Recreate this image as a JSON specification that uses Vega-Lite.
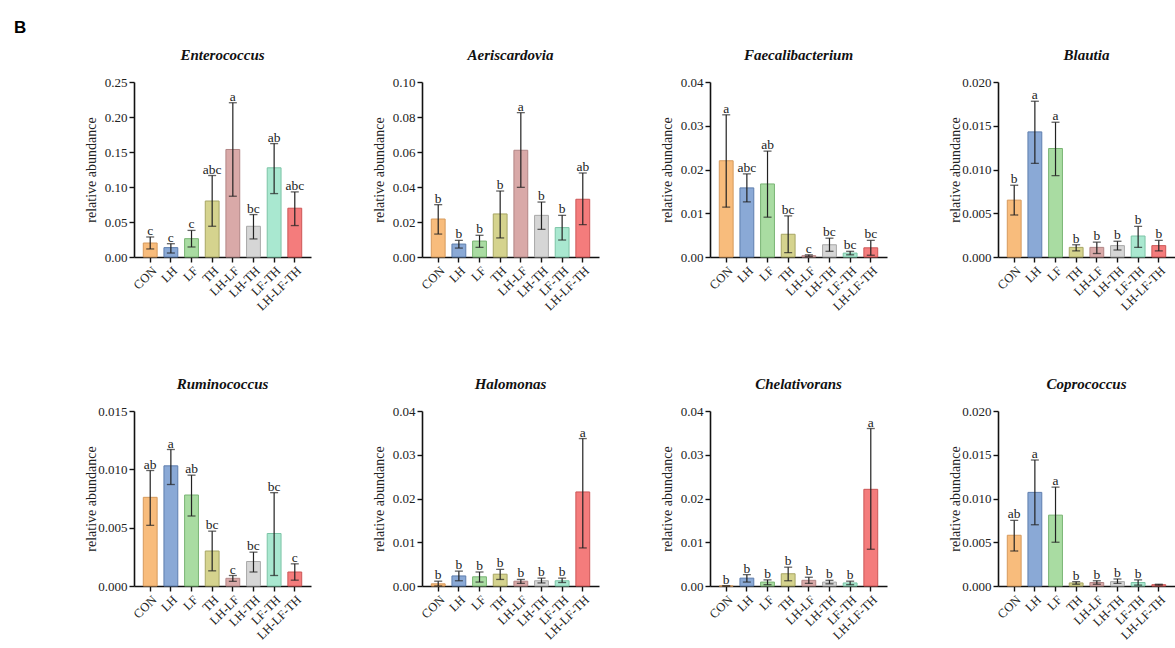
{
  "$schema": "https://vega.github.io/schema/vega-lite/v6.json",
  "padding": {"left": 14, "top": 19, "right": 0, "bottom": 0},
  "background": "white",
  "title": {"text": "B", "font": "Liberation Sans", "fontSize": 17, "fontStyle": "normal", "fontWeight": "bold", "color": "#000", "anchor": "start", "dx": -70, "offset": 11},
  "datasets": {
    "d": [
      {"genus": "Enterococcus", "group": "CON", "mean": 0.020, "lo": 0.0115, "hi": 0.0286, "letter": "c"},
      {"genus": "Enterococcus", "group": "LH", "mean": 0.0134, "lo": 0.0057, "hi": 0.019, "letter": "c"},
      {"genus": "Enterococcus", "group": "LF", "mean": 0.0262, "lo": 0.0143, "hi": 0.038, "letter": "c"},
      {"genus": "Enterococcus", "group": "TH", "mean": 0.080, "lo": 0.0439, "hi": 0.1164, "letter": "abc"},
      {"genus": "Enterococcus", "group": "LH-LF", "mean": 0.1536, "lo": 0.0868, "hi": 0.2204, "letter": "a"},
      {"genus": "Enterococcus", "group": "LH-TH", "mean": 0.0439, "lo": 0.0258, "hi": 0.0606, "letter": "bc"},
      {"genus": "Enterococcus", "group": "LF-TH", "mean": 0.1274, "lo": 0.0906, "hi": 0.162, "letter": "ab"},
      {"genus": "Enterococcus", "group": "LH-LF-TH", "mean": 0.0697, "lo": 0.0449, "hi": 0.093, "letter": "abc"},
      {"genus": "Aeriscardovia", "group": "CON", "mean": 0.0217, "lo": 0.0131, "hi": 0.0299, "letter": "b"},
      {"genus": "Aeriscardovia", "group": "LH", "mean": 0.0074, "lo": 0.0051, "hi": 0.0095, "letter": "b"},
      {"genus": "Aeriscardovia", "group": "LF", "mean": 0.0091, "lo": 0.0055, "hi": 0.0124, "letter": "b"},
      {"genus": "Aeriscardovia", "group": "TH", "mean": 0.0246, "lo": 0.0109, "hi": 0.0377, "letter": "b"},
      {"genus": "Aeriscardovia", "group": "LH-LF", "mean": 0.061, "lo": 0.0398, "hi": 0.0825, "letter": "a"},
      {"genus": "Aeriscardovia", "group": "LH-TH", "mean": 0.0238, "lo": 0.0158, "hi": 0.0314, "letter": "b"},
      {"genus": "Aeriscardovia", "group": "LF-TH", "mean": 0.0168, "lo": 0.0097, "hi": 0.0238, "letter": "b"},
      {"genus": "Aeriscardovia", "group": "LH-LF-TH", "mean": 0.033, "lo": 0.0185, "hi": 0.048, "letter": "ab"},
      {"genus": "Faecalibacterium", "group": "CON", "mean": 0.022, "lo": 0.0114, "hi": 0.0325, "letter": "a"},
      {"genus": "Faecalibacterium", "group": "LH", "mean": 0.0158, "lo": 0.0126, "hi": 0.019, "letter": "abc"},
      {"genus": "Faecalibacterium", "group": "LF", "mean": 0.0167, "lo": 0.0091, "hi": 0.0242, "letter": "ab"},
      {"genus": "Faecalibacterium", "group": "TH", "mean": 0.0052, "lo": 0.001, "hi": 0.0094, "letter": "bc"},
      {"genus": "Faecalibacterium", "group": "LH-LF", "mean": 0.0003, "lo": 0.0001, "hi": 0.0005, "letter": "c"},
      {"genus": "Faecalibacterium", "group": "LH-TH", "mean": 0.0028, "lo": 0.0013, "hi": 0.0043, "letter": "bc"},
      {"genus": "Faecalibacterium", "group": "LF-TH", "mean": 0.0009, "lo": 0.0005, "hi": 0.0013, "letter": "bc"},
      {"genus": "Faecalibacterium", "group": "LH-LF-TH", "mean": 0.0021, "lo": 0.0004, "hi": 0.0038, "letter": "bc"},
      {"genus": "Blautia", "group": "CON", "mean": 0.0065, "lo": 0.0048, "hi": 0.0082, "letter": "b"},
      {"genus": "Blautia", "group": "LH", "mean": 0.0143, "lo": 0.0107, "hi": 0.0178, "letter": "a"},
      {"genus": "Blautia", "group": "LF", "mean": 0.0124, "lo": 0.0093, "hi": 0.0154, "letter": "a"},
      {"genus": "Blautia", "group": "TH", "mean": 0.0011, "lo": 0.0007, "hi": 0.0014, "letter": "b"},
      {"genus": "Blautia", "group": "LH-LF", "mean": 0.0011, "lo": 0.0004, "hi": 0.0017, "letter": "b"},
      {"genus": "Blautia", "group": "LH-TH", "mean": 0.0013, "lo": 0.0008, "hi": 0.0018, "letter": "b"},
      {"genus": "Blautia", "group": "LF-TH", "mean": 0.0024, "lo": 0.0011, "hi": 0.0035, "letter": "b"},
      {"genus": "Blautia", "group": "LH-LF-TH", "mean": 0.0013, "lo": 0.0007, "hi": 0.0019, "letter": "b"},
      {"genus": "Ruminococcus", "group": "CON", "mean": 0.0076, "lo": 0.0052, "hi": 0.0099, "letter": "ab"},
      {"genus": "Ruminococcus", "group": "LH", "mean": 0.0103, "lo": 0.0087, "hi": 0.0117, "letter": "a"},
      {"genus": "Ruminococcus", "group": "LF", "mean": 0.0078, "lo": 0.006, "hi": 0.0095, "letter": "ab"},
      {"genus": "Ruminococcus", "group": "TH", "mean": 0.003, "lo": 0.0013, "hi": 0.0047, "letter": "bc"},
      {"genus": "Ruminococcus", "group": "LH-LF", "mean": 0.00066, "lo": 0.0004, "hi": 0.0009, "letter": "c"},
      {"genus": "Ruminococcus", "group": "LH-TH", "mean": 0.0021, "lo": 0.0012, "hi": 0.0029, "letter": "bc"},
      {"genus": "Ruminococcus", "group": "LF-TH", "mean": 0.0045, "lo": 0.0009, "hi": 0.008, "letter": "bc"},
      {"genus": "Ruminococcus", "group": "LH-LF-TH", "mean": 0.0012, "lo": 0.0005, "hi": 0.0019, "letter": "c"},
      {"genus": "Halomonas", "group": "CON", "mean": 0.0005, "lo": 0.0, "hi": 0.0011, "letter": "b"},
      {"genus": "Halomonas", "group": "LH", "mean": 0.0023, "lo": 0.0012, "hi": 0.0034, "letter": "b"},
      {"genus": "Halomonas", "group": "LF", "mean": 0.0021, "lo": 0.0009, "hi": 0.0032, "letter": "b"},
      {"genus": "Halomonas", "group": "TH", "mean": 0.0027, "lo": 0.0015, "hi": 0.0038, "letter": "b"},
      {"genus": "Halomonas", "group": "LH-LF", "mean": 0.0011, "lo": 0.0006, "hi": 0.0015, "letter": "b"},
      {"genus": "Halomonas", "group": "LH-TH", "mean": 0.0012, "lo": 0.0007, "hi": 0.0018, "letter": "b"},
      {"genus": "Halomonas", "group": "LF-TH", "mean": 0.0012, "lo": 0.0008, "hi": 0.0018, "letter": "b"},
      {"genus": "Halomonas", "group": "LH-LF-TH", "mean": 0.0215, "lo": 0.0087, "hi": 0.0337, "letter": "a"},
      {"genus": "Chelativorans", "group": "CON", "mean": 0.0, "lo": 0.0, "hi": 0.0, "letter": "b"},
      {"genus": "Chelativorans", "group": "LH", "mean": 0.0018, "lo": 0.0009, "hi": 0.0026, "letter": "b"},
      {"genus": "Chelativorans", "group": "LF", "mean": 0.0009, "lo": 0.0003, "hi": 0.0014, "letter": "b"},
      {"genus": "Chelativorans", "group": "TH", "mean": 0.0028, "lo": 0.0012, "hi": 0.0043, "letter": "b"},
      {"genus": "Chelativorans", "group": "LH-LF", "mean": 0.0013, "lo": 0.0006, "hi": 0.002, "letter": "b"},
      {"genus": "Chelativorans", "group": "LH-TH", "mean": 0.0009, "lo": 0.0005, "hi": 0.0013, "letter": "b"},
      {"genus": "Chelativorans", "group": "LF-TH", "mean": 0.0007, "lo": 0.0003, "hi": 0.0011, "letter": "b"},
      {"genus": "Chelativorans", "group": "LH-LF-TH", "mean": 0.0221, "lo": 0.0084, "hi": 0.036, "letter": "a"},
      {"genus": "Coprococcus", "group": "CON", "mean": 0.0058, "lo": 0.004, "hi": 0.0075, "letter": "ab"},
      {"genus": "Coprococcus", "group": "LH", "mean": 0.0107, "lo": 0.007, "hi": 0.0144, "letter": "a"},
      {"genus": "Coprococcus", "group": "LF", "mean": 0.0081, "lo": 0.005, "hi": 0.0113, "letter": "a"},
      {"genus": "Coprococcus", "group": "TH", "mean": 0.00035, "lo": 0.0002, "hi": 0.0005, "letter": "b"},
      {"genus": "Coprococcus", "group": "LH-LF", "mean": 0.0004, "lo": 0.0002, "hi": 0.0006, "letter": "b"},
      {"genus": "Coprococcus", "group": "LH-TH", "mean": 0.0005, "lo": 0.0003, "hi": 0.0008, "letter": "b"},
      {"genus": "Coprococcus", "group": "LF-TH", "mean": 0.0004, "lo": 0.0001, "hi": 0.0007, "letter": "b"},
      {"genus": "Coprococcus", "group": "LH-LF-TH", "mean": 0.00015, "lo": 0.0001, "hi": 0.0002, "letter": ""}
    ]
  },
  "spacing": 64,
  "vconcat": [
    {
      "spacing": 61,
      "hconcat": [
        {"title": "Enterococcus", "width": 177, "height": 175, "data": {"name": "d"},
         "transform": [{"filter": "datum.genus === 'Enterococcus'"}],
         "encoding": {"x": {"field": "group", "type": "nominal", "sort": ["CON","LH","LF","TH","LH-LF","LH-TH","LF-TH","LH-LF-TH"], "scale": {"paddingInner": 0.33, "paddingOuter": 0.45}, "axis": {"title": null, "labelAngle": -45}}},
         "layer": [
           {"mark": {"type": "bar", "strokeWidth": 1}, "encoding": {"y": {"field": "mean", "type": "quantitative", "title": "relative abundance", "scale": {"domain": [0, 0.25], "nice": false}, "axis": {"values": [0, 0.05, 0.1, 0.15, 0.2, 0.25], "format": ".2f"}},
             "fill": {"field": "group", "type": "nominal", "legend": null, "scale": {"domain": ["CON","LH","LF","TH","LH-LF","LH-TH","LF-TH","LH-LF-TH"], "range": ["#F8BC7C","#8AA9D6","#A9DCA2","#D5D38E","#D9A9A8","#D6D6D6","#A9E8D0","#F47C7C"]}},
             "stroke": {"field": "group", "type": "nominal", "legend": null, "scale": {"domain": ["CON","LH","LF","TH","LH-LF","LH-TH","LF-TH","LH-LF-TH"], "range": ["#D69A5C","#5E7EAE","#7AB474","#A8A664","#B28686","#A8A8A8","#7CC4A6","#CC5656"]}}}},
           {"mark": {"type": "rule", "color": "#222", "strokeWidth": 1.2}, "encoding": {"y": {"field": "lo", "type": "quantitative", "title": "relative abundance", "axis": {"values": [0, 0.05, 0.1, 0.15, 0.2, 0.25], "format": ".2f"}}, "y2": {"field": "hi"}}},
           {"mark": {"type": "tick", "color": "#222", "size": 8, "thickness": 1.3}, "encoding": {"y": {"field": "lo", "type": "quantitative", "title": "relative abundance", "axis": {"values": [0, 0.05, 0.1, 0.15, 0.2, 0.25], "format": ".2f"}}}},
           {"mark": {"type": "tick", "color": "#222", "size": 8, "thickness": 1.3}, "encoding": {"y": {"field": "hi", "type": "quantitative", "title": "relative abundance", "axis": {"values": [0, 0.05, 0.1, 0.15, 0.2, 0.25], "format": ".2f"}}}},
           {"mark": {"type": "text", "dy": -2, "baseline": "alphabetic", "font": "Liberation Serif", "fontSize": 13.5, "color": "#222"}, "encoding": {"y": {"field": "hi", "type": "quantitative", "title": "relative abundance", "axis": {"values": [0, 0.05, 0.1, 0.15, 0.2, 0.25], "format": ".2f"}}, "text": {"field": "letter"}}}
         ]},
        {"title": "Aeriscardovia", "width": 177, "height": 175, "data": {"name": "d"},
         "transform": [{"filter": "datum.genus === 'Aeriscardovia'"}],
         "encoding": {"x": {"field": "group", "type": "nominal", "sort": ["CON","LH","LF","TH","LH-LF","LH-TH","LF-TH","LH-LF-TH"], "scale": {"paddingInner": 0.33, "paddingOuter": 0.45}, "axis": {"title": null, "labelAngle": -45}}},
         "layer": [
           {"mark": {"type": "bar", "strokeWidth": 1}, "encoding": {"y": {"field": "mean", "type": "quantitative", "title": "relative abundance", "scale": {"domain": [0, 0.1], "nice": false}, "axis": {"values": [0, 0.02, 0.04, 0.06, 0.08, 0.1], "format": ".2f"}},
             "fill": {"field": "group", "type": "nominal", "legend": null, "scale": {"domain": ["CON","LH","LF","TH","LH-LF","LH-TH","LF-TH","LH-LF-TH"], "range": ["#F8BC7C","#8AA9D6","#A9DCA2","#D5D38E","#D9A9A8","#D6D6D6","#A9E8D0","#F47C7C"]}},
             "stroke": {"field": "group", "type": "nominal", "legend": null, "scale": {"domain": ["CON","LH","LF","TH","LH-LF","LH-TH","LF-TH","LH-LF-TH"], "range": ["#D69A5C","#5E7EAE","#7AB474","#A8A664","#B28686","#A8A8A8","#7CC4A6","#CC5656"]}}}},
           {"mark": {"type": "rule", "color": "#222", "strokeWidth": 1.2}, "encoding": {"y": {"field": "lo", "type": "quantitative", "title": "relative abundance", "axis": {"values": [0, 0.02, 0.04, 0.06, 0.08, 0.1], "format": ".2f"}}, "y2": {"field": "hi"}}},
           {"mark": {"type": "tick", "color": "#222", "size": 8, "thickness": 1.3}, "encoding": {"y": {"field": "lo", "type": "quantitative", "title": "relative abundance", "axis": {"values": [0, 0.02, 0.04, 0.06, 0.08, 0.1], "format": ".2f"}}}},
           {"mark": {"type": "tick", "color": "#222", "size": 8, "thickness": 1.3}, "encoding": {"y": {"field": "hi", "type": "quantitative", "title": "relative abundance", "axis": {"values": [0, 0.02, 0.04, 0.06, 0.08, 0.1], "format": ".2f"}}}},
           {"mark": {"type": "text", "dy": -2, "baseline": "alphabetic", "font": "Liberation Serif", "fontSize": 13.5, "color": "#222"}, "encoding": {"y": {"field": "hi", "type": "quantitative", "title": "relative abundance", "axis": {"values": [0, 0.02, 0.04, 0.06, 0.08, 0.1], "format": ".2f"}}, "text": {"field": "letter"}}}
         ]},
        {"title": "Faecalibacterium", "width": 177, "height": 175, "data": {"name": "d"},
         "transform": [{"filter": "datum.genus === 'Faecalibacterium'"}],
         "encoding": {"x": {"field": "group", "type": "nominal", "sort": ["CON","LH","LF","TH","LH-LF","LH-TH","LF-TH","LH-LF-TH"], "scale": {"paddingInner": 0.33, "paddingOuter": 0.45}, "axis": {"title": null, "labelAngle": -45}}},
         "layer": [
           {"mark": {"type": "bar", "strokeWidth": 1}, "encoding": {"y": {"field": "mean", "type": "quantitative", "title": "relative abundance", "scale": {"domain": [0, 0.04], "nice": false}, "axis": {"values": [0, 0.01, 0.02, 0.03, 0.04], "format": ".2f"}},
             "fill": {"field": "group", "type": "nominal", "legend": null, "scale": {"domain": ["CON","LH","LF","TH","LH-LF","LH-TH","LF-TH","LH-LF-TH"], "range": ["#F8BC7C","#8AA9D6","#A9DCA2","#D5D38E","#D9A9A8","#D6D6D6","#A9E8D0","#F47C7C"]}},
             "stroke": {"field": "group", "type": "nominal", "legend": null, "scale": {"domain": ["CON","LH","LF","TH","LH-LF","LH-TH","LF-TH","LH-LF-TH"], "range": ["#D69A5C","#5E7EAE","#7AB474","#A8A664","#B28686","#A8A8A8","#7CC4A6","#CC5656"]}}}},
           {"mark": {"type": "rule", "color": "#222", "strokeWidth": 1.2}, "encoding": {"y": {"field": "lo", "type": "quantitative", "title": "relative abundance", "axis": {"values": [0, 0.01, 0.02, 0.03, 0.04], "format": ".2f"}}, "y2": {"field": "hi"}}},
           {"mark": {"type": "tick", "color": "#222", "size": 8, "thickness": 1.3}, "encoding": {"y": {"field": "lo", "type": "quantitative", "title": "relative abundance", "axis": {"values": [0, 0.01, 0.02, 0.03, 0.04], "format": ".2f"}}}},
           {"mark": {"type": "tick", "color": "#222", "size": 8, "thickness": 1.3}, "encoding": {"y": {"field": "hi", "type": "quantitative", "title": "relative abundance", "axis": {"values": [0, 0.01, 0.02, 0.03, 0.04], "format": ".2f"}}}},
           {"mark": {"type": "text", "dy": -2, "baseline": "alphabetic", "font": "Liberation Serif", "fontSize": 13.5, "color": "#222"}, "encoding": {"y": {"field": "hi", "type": "quantitative", "title": "relative abundance", "axis": {"values": [0, 0.01, 0.02, 0.03, 0.04], "format": ".2f"}}, "text": {"field": "letter"}}}
         ]},
        {"title": "Blautia", "width": 177, "height": 175, "data": {"name": "d"},
         "transform": [{"filter": "datum.genus === 'Blautia'"}],
         "encoding": {"x": {"field": "group", "type": "nominal", "sort": ["CON","LH","LF","TH","LH-LF","LH-TH","LF-TH","LH-LF-TH"], "scale": {"paddingInner": 0.33, "paddingOuter": 0.45}, "axis": {"title": null, "labelAngle": -45}}},
         "layer": [
           {"mark": {"type": "bar", "strokeWidth": 1}, "encoding": {"y": {"field": "mean", "type": "quantitative", "title": "relative abundance", "scale": {"domain": [0, 0.02], "nice": false}, "axis": {"values": [0, 0.005, 0.01, 0.015, 0.02], "format": ".3f"}},
             "fill": {"field": "group", "type": "nominal", "legend": null, "scale": {"domain": ["CON","LH","LF","TH","LH-LF","LH-TH","LF-TH","LH-LF-TH"], "range": ["#F8BC7C","#8AA9D6","#A9DCA2","#D5D38E","#D9A9A8","#D6D6D6","#A9E8D0","#F47C7C"]}},
             "stroke": {"field": "group", "type": "nominal", "legend": null, "scale": {"domain": ["CON","LH","LF","TH","LH-LF","LH-TH","LF-TH","LH-LF-TH"], "range": ["#D69A5C","#5E7EAE","#7AB474","#A8A664","#B28686","#A8A8A8","#7CC4A6","#CC5656"]}}}},
           {"mark": {"type": "rule", "color": "#222", "strokeWidth": 1.2}, "encoding": {"y": {"field": "lo", "type": "quantitative", "title": "relative abundance", "axis": {"values": [0, 0.005, 0.01, 0.015, 0.02], "format": ".3f"}}, "y2": {"field": "hi"}}},
           {"mark": {"type": "tick", "color": "#222", "size": 8, "thickness": 1.3}, "encoding": {"y": {"field": "lo", "type": "quantitative", "title": "relative abundance", "axis": {"values": [0, 0.005, 0.01, 0.015, 0.02], "format": ".3f"}}}},
           {"mark": {"type": "tick", "color": "#222", "size": 8, "thickness": 1.3}, "encoding": {"y": {"field": "hi", "type": "quantitative", "title": "relative abundance", "axis": {"values": [0, 0.005, 0.01, 0.015, 0.02], "format": ".3f"}}}},
           {"mark": {"type": "text", "dy": -2, "baseline": "alphabetic", "font": "Liberation Serif", "fontSize": 13.5, "color": "#222"}, "encoding": {"y": {"field": "hi", "type": "quantitative", "title": "relative abundance", "axis": {"values": [0, 0.005, 0.01, 0.015, 0.02], "format": ".3f"}}, "text": {"field": "letter"}}}
         ]}
      ]
    },
    {
      "spacing": 61,
      "hconcat": [
        {"title": "Ruminococcus", "width": 177, "height": 175, "data": {"name": "d"},
         "transform": [{"filter": "datum.genus === 'Ruminococcus'"}],
         "encoding": {"x": {"field": "group", "type": "nominal", "sort": ["CON","LH","LF","TH","LH-LF","LH-TH","LF-TH","LH-LF-TH"], "scale": {"paddingInner": 0.33, "paddingOuter": 0.45}, "axis": {"title": null, "labelAngle": -45}}},
         "layer": [
           {"mark": {"type": "bar", "strokeWidth": 1}, "encoding": {"y": {"field": "mean", "type": "quantitative", "title": "relative abundance", "scale": {"domain": [0, 0.015], "nice": false}, "axis": {"values": [0, 0.005, 0.01, 0.015], "format": ".3f"}},
             "fill": {"field": "group", "type": "nominal", "legend": null, "scale": {"domain": ["CON","LH","LF","TH","LH-LF","LH-TH","LF-TH","LH-LF-TH"], "range": ["#F8BC7C","#8AA9D6","#A9DCA2","#D5D38E","#D9A9A8","#D6D6D6","#A9E8D0","#F47C7C"]}},
             "stroke": {"field": "group", "type": "nominal", "legend": null, "scale": {"domain": ["CON","LH","LF","TH","LH-LF","LH-TH","LF-TH","LH-LF-TH"], "range": ["#D69A5C","#5E7EAE","#7AB474","#A8A664","#B28686","#A8A8A8","#7CC4A6","#CC5656"]}}}},
           {"mark": {"type": "rule", "color": "#222", "strokeWidth": 1.2}, "encoding": {"y": {"field": "lo", "type": "quantitative", "title": "relative abundance", "axis": {"values": [0, 0.005, 0.01, 0.015], "format": ".3f"}}, "y2": {"field": "hi"}}},
           {"mark": {"type": "tick", "color": "#222", "size": 8, "thickness": 1.3}, "encoding": {"y": {"field": "lo", "type": "quantitative", "title": "relative abundance", "axis": {"values": [0, 0.005, 0.01, 0.015], "format": ".3f"}}}},
           {"mark": {"type": "tick", "color": "#222", "size": 8, "thickness": 1.3}, "encoding": {"y": {"field": "hi", "type": "quantitative", "title": "relative abundance", "axis": {"values": [0, 0.005, 0.01, 0.015], "format": ".3f"}}}},
           {"mark": {"type": "text", "dy": -2, "baseline": "alphabetic", "font": "Liberation Serif", "fontSize": 13.5, "color": "#222"}, "encoding": {"y": {"field": "hi", "type": "quantitative", "title": "relative abundance", "axis": {"values": [0, 0.005, 0.01, 0.015], "format": ".3f"}}, "text": {"field": "letter"}}}
         ]},
        {"title": "Halomonas", "width": 177, "height": 175, "data": {"name": "d"},
         "transform": [{"filter": "datum.genus === 'Halomonas'"}],
         "encoding": {"x": {"field": "group", "type": "nominal", "sort": ["CON","LH","LF","TH","LH-LF","LH-TH","LF-TH","LH-LF-TH"], "scale": {"paddingInner": 0.33, "paddingOuter": 0.45}, "axis": {"title": null, "labelAngle": -45}}},
         "layer": [
           {"mark": {"type": "bar", "strokeWidth": 1}, "encoding": {"y": {"field": "mean", "type": "quantitative", "title": "relative abundance", "scale": {"domain": [0, 0.04], "nice": false}, "axis": {"values": [0, 0.01, 0.02, 0.03, 0.04], "format": ".2f"}},
             "fill": {"field": "group", "type": "nominal", "legend": null, "scale": {"domain": ["CON","LH","LF","TH","LH-LF","LH-TH","LF-TH","LH-LF-TH"], "range": ["#F8BC7C","#8AA9D6","#A9DCA2","#D5D38E","#D9A9A8","#D6D6D6","#A9E8D0","#F47C7C"]}},
             "stroke": {"field": "group", "type": "nominal", "legend": null, "scale": {"domain": ["CON","LH","LF","TH","LH-LF","LH-TH","LF-TH","LH-LF-TH"], "range": ["#D69A5C","#5E7EAE","#7AB474","#A8A664","#B28686","#A8A8A8","#7CC4A6","#CC5656"]}}}},
           {"mark": {"type": "rule", "color": "#222", "strokeWidth": 1.2}, "encoding": {"y": {"field": "lo", "type": "quantitative", "title": "relative abundance", "axis": {"values": [0, 0.01, 0.02, 0.03, 0.04], "format": ".2f"}}, "y2": {"field": "hi"}}},
           {"mark": {"type": "tick", "color": "#222", "size": 8, "thickness": 1.3}, "encoding": {"y": {"field": "lo", "type": "quantitative", "title": "relative abundance", "axis": {"values": [0, 0.01, 0.02, 0.03, 0.04], "format": ".2f"}}}},
           {"mark": {"type": "tick", "color": "#222", "size": 8, "thickness": 1.3}, "encoding": {"y": {"field": "hi", "type": "quantitative", "title": "relative abundance", "axis": {"values": [0, 0.01, 0.02, 0.03, 0.04], "format": ".2f"}}}},
           {"mark": {"type": "text", "dy": -2, "baseline": "alphabetic", "font": "Liberation Serif", "fontSize": 13.5, "color": "#222"}, "encoding": {"y": {"field": "hi", "type": "quantitative", "title": "relative abundance", "axis": {"values": [0, 0.01, 0.02, 0.03, 0.04], "format": ".2f"}}, "text": {"field": "letter"}}}
         ]},
        {"title": "Chelativorans", "width": 177, "height": 175, "data": {"name": "d"},
         "transform": [{"filter": "datum.genus === 'Chelativorans'"}],
         "encoding": {"x": {"field": "group", "type": "nominal", "sort": ["CON","LH","LF","TH","LH-LF","LH-TH","LF-TH","LH-LF-TH"], "scale": {"paddingInner": 0.33, "paddingOuter": 0.45}, "axis": {"title": null, "labelAngle": -45}}},
         "layer": [
           {"mark": {"type": "bar", "strokeWidth": 1}, "encoding": {"y": {"field": "mean", "type": "quantitative", "title": "relative abundance", "scale": {"domain": [0, 0.04], "nice": false}, "axis": {"values": [0, 0.01, 0.02, 0.03, 0.04], "format": ".2f"}},
             "fill": {"field": "group", "type": "nominal", "legend": null, "scale": {"domain": ["CON","LH","LF","TH","LH-LF","LH-TH","LF-TH","LH-LF-TH"], "range": ["#F8BC7C","#8AA9D6","#A9DCA2","#D5D38E","#D9A9A8","#D6D6D6","#A9E8D0","#F47C7C"]}},
             "stroke": {"field": "group", "type": "nominal", "legend": null, "scale": {"domain": ["CON","LH","LF","TH","LH-LF","LH-TH","LF-TH","LH-LF-TH"], "range": ["#D69A5C","#5E7EAE","#7AB474","#A8A664","#B28686","#A8A8A8","#7CC4A6","#CC5656"]}}}},
           {"mark": {"type": "rule", "color": "#222", "strokeWidth": 1.2}, "encoding": {"y": {"field": "lo", "type": "quantitative", "title": "relative abundance", "axis": {"values": [0, 0.01, 0.02, 0.03, 0.04], "format": ".2f"}}, "y2": {"field": "hi"}}},
           {"mark": {"type": "tick", "color": "#222", "size": 8, "thickness": 1.3}, "encoding": {"y": {"field": "lo", "type": "quantitative", "title": "relative abundance", "axis": {"values": [0, 0.01, 0.02, 0.03, 0.04], "format": ".2f"}}}},
           {"mark": {"type": "tick", "color": "#222", "size": 8, "thickness": 1.3}, "encoding": {"y": {"field": "hi", "type": "quantitative", "title": "relative abundance", "axis": {"values": [0, 0.01, 0.02, 0.03, 0.04], "format": ".2f"}}}},
           {"mark": {"type": "text", "dy": -2, "baseline": "alphabetic", "font": "Liberation Serif", "fontSize": 13.5, "color": "#222"}, "encoding": {"y": {"field": "hi", "type": "quantitative", "title": "relative abundance", "axis": {"values": [0, 0.01, 0.02, 0.03, 0.04], "format": ".2f"}}, "text": {"field": "letter"}}}
         ]},
        {"title": "Coprococcus", "width": 177, "height": 175, "data": {"name": "d"},
         "transform": [{"filter": "datum.genus === 'Coprococcus'"}],
         "encoding": {"x": {"field": "group", "type": "nominal", "sort": ["CON","LH","LF","TH","LH-LF","LH-TH","LF-TH","LH-LF-TH"], "scale": {"paddingInner": 0.33, "paddingOuter": 0.45}, "axis": {"title": null, "labelAngle": -45}}},
         "layer": [
           {"mark": {"type": "bar", "strokeWidth": 1}, "encoding": {"y": {"field": "mean", "type": "quantitative", "title": "relative abundance", "scale": {"domain": [0, 0.02], "nice": false}, "axis": {"values": [0, 0.005, 0.01, 0.015, 0.02], "format": ".3f"}},
             "fill": {"field": "group", "type": "nominal", "legend": null, "scale": {"domain": ["CON","LH","LF","TH","LH-LF","LH-TH","LF-TH","LH-LF-TH"], "range": ["#F8BC7C","#8AA9D6","#A9DCA2","#D5D38E","#D9A9A8","#D6D6D6","#A9E8D0","#F47C7C"]}},
             "stroke": {"field": "group", "type": "nominal", "legend": null, "scale": {"domain": ["CON","LH","LF","TH","LH-LF","LH-TH","LF-TH","LH-LF-TH"], "range": ["#D69A5C","#5E7EAE","#7AB474","#A8A664","#B28686","#A8A8A8","#7CC4A6","#CC5656"]}}}},
           {"mark": {"type": "rule", "color": "#222", "strokeWidth": 1.2}, "encoding": {"y": {"field": "lo", "type": "quantitative", "title": "relative abundance", "axis": {"values": [0, 0.005, 0.01, 0.015, 0.02], "format": ".3f"}}, "y2": {"field": "hi"}}},
           {"mark": {"type": "tick", "color": "#222", "size": 8, "thickness": 1.3}, "encoding": {"y": {"field": "lo", "type": "quantitative", "title": "relative abundance", "axis": {"values": [0, 0.005, 0.01, 0.015, 0.02], "format": ".3f"}}}},
           {"mark": {"type": "tick", "color": "#222", "size": 8, "thickness": 1.3}, "encoding": {"y": {"field": "hi", "type": "quantitative", "title": "relative abundance", "axis": {"values": [0, 0.005, 0.01, 0.015, 0.02], "format": ".3f"}}}},
           {"mark": {"type": "text", "dy": -2, "baseline": "alphabetic", "font": "Liberation Serif", "fontSize": 13.5, "color": "#222"}, "encoding": {"y": {"field": "hi", "type": "quantitative", "title": "relative abundance", "axis": {"values": [0, 0.005, 0.01, 0.015, 0.02], "format": ".3f"}}, "text": {"field": "letter"}}}
         ]}
      ]
    }
  ],
  "config": {
    "view": {"stroke": null},
    "axis": {"grid": false, "domainColor": "#111", "domainWidth": 1.6, "tickColor": "#111", "tickWidth": 1.4, "tickSize": 5, "labelFont": "Liberation Serif", "labelFontSize": 13, "labelColor": "#222", "labelPadding": 2, "titleFont": "Liberation Serif", "titleFontSize": 14, "titleFontWeight": "normal", "titleColor": "#222"},
    "axisY": {"minExtent": 30, "maxExtent": 30, "titlePadding": 6, "labelOverlap": false},
    "axisX": {"labelFontSize": 12.5},
    "title": {"font": "Liberation Serif", "fontSize": 15, "fontStyle": "italic", "fontWeight": "bold", "color": "#111", "offset": 13}
  }
}
